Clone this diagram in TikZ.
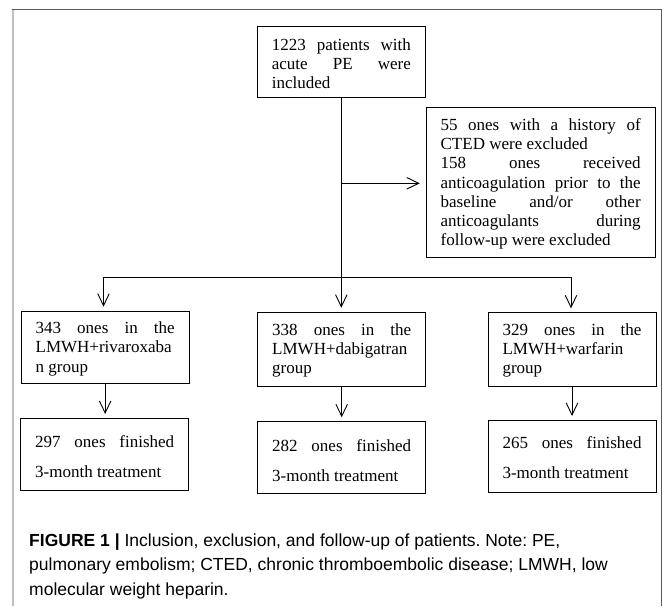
\documentclass[tikz,border=0pt]{standalone}
\usepackage{fontspec}
\setmainfont{Liberation Serif}
\newfontfamily\capfont{Liberation Sans}
\usetikzlibrary{arrows.meta}
\tolerance=9999
\hyphenpenalty=10000
\exhyphenpenalty=10000
\hbadness=10000
\begin{document}
\begin{tikzpicture}[x=1pt,y=-1pt,
  box/.style={draw=black, line width=0.9pt, anchor=north, inner ysep=0pt, inner xsep=14.5pt,
    text width=139pt, align=justify, font=\frenchspacing\fontsize{17}{19.2}\selectfont},
  finbox/.style={box, font=\frenchspacing\fontsize{17}{30}\selectfont},
  conn/.style={line width=0.9pt, draw=black},
  arr/.style={conn, -{Straight Barb[length=12pt,width=11.5pt]}, shorten >=4pt},
  capstyle/.style={anchor=base west, inner sep=0pt, text width=634pt, align=flush left,
    font=\capfont\frenchspacing\fontsize{17.5}{24.5}\selectfont}
]
\useasboundingbox (0,0) rectangle (663,606);
% frame
\draw[draw=black!25, line width=1.8pt] (12.7,9) -- (12.7,606);
\draw[draw=black!65, line width=1pt] (12.2,9) -- (661.3,9) -- (661.3,606);

% boxes
\node[box, text height=24pt, text depth=47pt] (top) at (341.3,26)
  {1223 patients with\linebreak acute PE were\linebreak included};
\node[box, text width=200pt, inner xsep=14.4pt, text height=22.7pt, text depth=126.7pt] (excl) at (540.65,107.3)
  {55 ones with a history of\linebreak CTED were excluded\par
   158 ones received\linebreak anticoagulation prior to the\linebreak baseline and/or other\linebreak anticoagulants during\linebreak follow-up were excluded};
\node[box, text height=22.6pt, text depth=49.7pt] (g1) at (105.15,310.7)
  {343 ones in the\linebreak LMWH+rivaroxaba\linebreak n group};
\node[box, text height=23.3pt, text depth=51.3pt] (g2) at (341.7,311.7)
  {338 ones in the\linebreak LMWH+dabigatran\linebreak group};
\node[box, text height=22.7pt, text depth=50.7pt] (g3) at (572,312.3)
  {329 ones in the\linebreak LMWH+warfarin\linebreak group};
\node[finbox, text height=29.3pt, text depth=43pt] (f1) at (104.7,418)
  {297 ones finished\linebreak 3-month treatment};
\node[finbox, text height=29.4pt, text depth=42.6pt] (f2) at (341.7,421.3)
  {282 ones finished\linebreak 3-month treatment};
\node[finbox, text height=28pt, text depth=44.3pt] (f3) at (572,420)
  {265 ones finished\linebreak 3-month treatment};

% connectors
\coordinate (jx) at (341.3,183.3);
\coordinate (bm) at (341.3,277.3);
\coordinate (bl) at (103.5,277.3);
\coordinate (br) at (571,277.3);
\draw[conn] (top.south) -- (bm);
\draw[conn] (bl) -- (br);
\draw[arr, shorten >=6pt] (jx) -- (jx -| excl.west);
\draw[arr] (bl) -- (bl |- g1.north);
\draw[arr] (bm) -- (bm |- g2.north);
\draw[arr] (br) -- (br |- g3.north);
\draw[arr] (g1.south) -- (g1.south |- f1.north);
\draw[arr] (g2.south) -- (g2.south |- f2.north);
\draw[arr] (g3.south) -- (g3.south |- f3.north);

% caption
\node[capstyle] (cap) at (29,546)
  {\textbf{FIGURE 1 |} Inclusion, exclusion, and follow-up of patients. Note: PE,\par
   pulmonary embolism; CTED, chronic thromboembolic disease; LMWH, low\par
   molecular weight heparin.};
\end{tikzpicture}
\end{document}
